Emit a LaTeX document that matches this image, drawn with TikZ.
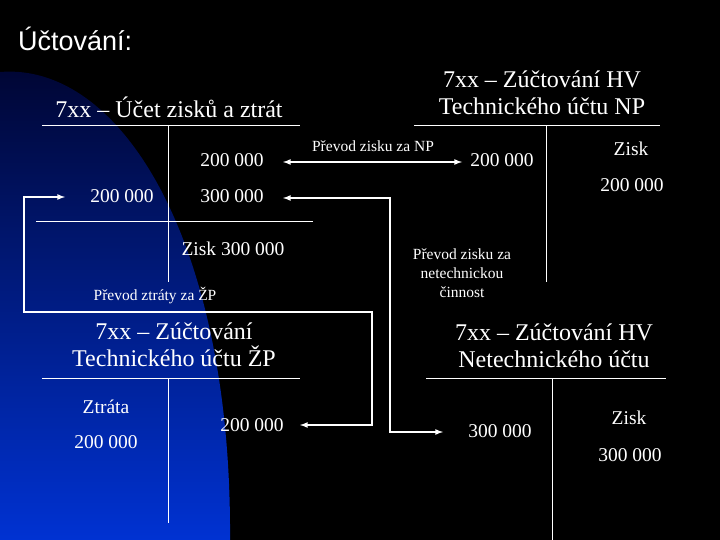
\documentclass[tikz,border=0pt]{standalone}
\usepackage{fontspec}
\setmainfont{Liberation Serif}
\newfontfamily\arialf{Liberation Sans}
\begin{document}
\begin{tikzpicture}[x=1pt,y=-1pt,
  ln/.style={white,line width=1pt},
  ar/.style={white,line width=1.6pt,latex-latex},
  ttl/.style={text=white,font=\fontsize{24}{27}\selectfont,align=center,inner sep=0},
  num/.style={text=white,font=\fontsize{19.5}{22}\selectfont,inner sep=0},
  sm/.style={text=white,font=\fontsize{15.5}{19}\selectfont,align=center,inner sep=0}]
\fill[black] (0,0) rectangle (720,540);
\useasboundingbox (0,0) rectangle (720,540);
\shade[top color={rgb,255:red,0;green,5;blue,50},bottom color={rgb,255:red,0;green,50;blue,210}]
  (0,540) -- (0,72) .. controls (120,62) and (232,240) .. (230,540) -- cycle;
\node[text=white,font=\arialf\fontsize{27}{30}\selectfont,anchor=west,inner sep=0] (hdr) at (18,39) {Účtování:};
% account 1
\node[ttl] (t1) at (169,107) {7xx – Účet zisků a ztrát};
\draw[ln] (42,126) -- (300,126);
\draw[ln] (168,126) -- (168,282);
\draw[ln] (36,222) -- (313,222);
\node[num] (n1) at (232,160) {200 000};
\node[num] (n2) at (122,196) {200 000};
\node[num] (n3) at (232,196) {300 000};
\node[num] (n4) at (233,249) {Zisk 300 000};
\node[sm] (l1) at (155,296) {Převod ztráty za ŽP};
% account 2
\node[ttl] (t2) at (542,93) {7xx – Zúčtování HV\\Technického účtu NP};
\draw[ln] (414,126) -- (660,126);
\draw[ln] (546,126) -- (546,282);
\node[num] (m1) at (502,160) {200 000};
\node[num] (m2) at (631,149) {Zisk};
\node[num] (m3) at (632,185) {200 000};
\node[sm] (l2) at (373,146) {Převod zisku za NP};
\node[sm] (l3) at (462,273) {Převod zisku za\\netechnickou\\činnost};
% account 3
\node[ttl] (t3) at (174,345) {7xx – Zúčtování\\Technického účtu ŽP};
\draw[ln] (42,378) -- (300,378);
\draw[ln] (168,378) -- (168,523);
\node[num] (p1) at (106,407) {Ztráta};
\node[num] (p2) at (106,442) {200 000};
\node[num] (p3) at (252,425) {200 000};
% account 4
\node[ttl] (t4) at (554,346) {7xx – Zúčtování HV\\Netechnického účtu};
\draw[ln] (426,378) -- (666,378);
\draw[ln] (552,378) -- (552,540);
\node[num] (q1) at (500,431) {300 000};
\node[num] (q2) at (629,418) {Zisk};
\node[num] (q3) at (630,455) {300 000};
% arrows
\coordinate (e1) at (283,162); \coordinate (e2) at (462,162);
\draw[ar] (e1) -- (e2);
\draw[ar] (283,198) -- (390,198) -- (390,432) -- (443,432);
\draw[ar] (65,197) -- (24,197) -- (24,312) -- (372,312) -- (372,425) -- (300,425);
\end{tikzpicture}
\end{document}
